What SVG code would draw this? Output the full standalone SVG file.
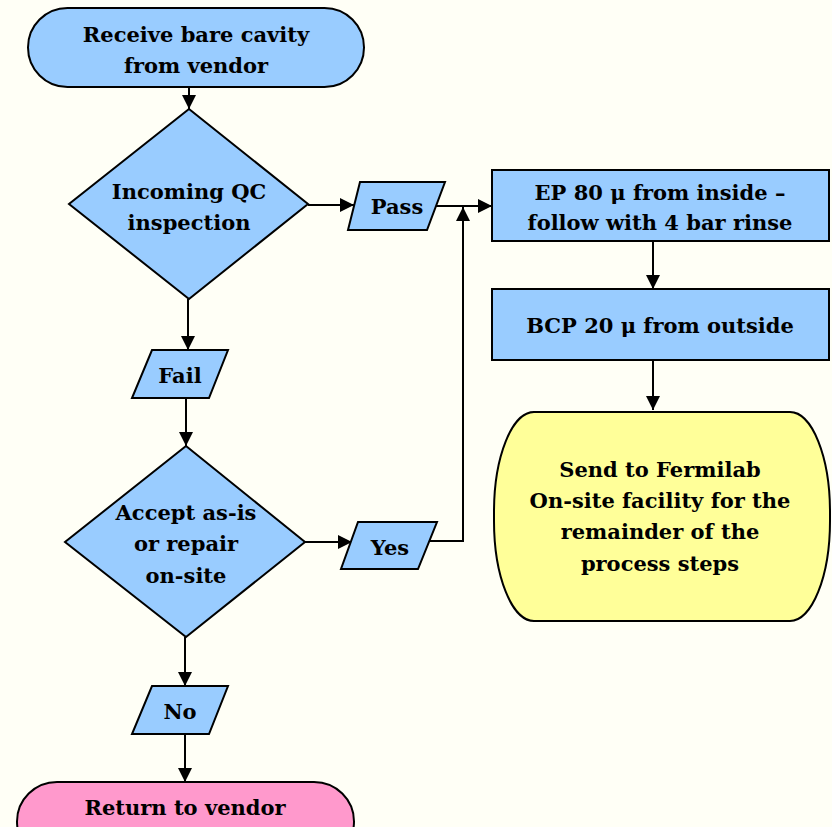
<svg xmlns="http://www.w3.org/2000/svg" width="832" height="827" viewBox="0 0 832 827">
<style>
.shape{stroke:#000;stroke-width:2}
.blue{fill:#99CCFF}
.yellow{fill:#FFFF99}
.pink{fill:#FF99CC}
.conn{fill:none;stroke:#000;stroke-width:2}
text{font-family:"DejaVu Serif","Liberation Serif",serif;font-weight:bold;font-size:21px;fill:#000;text-anchor:middle}
</style>
<defs>
<marker id="ah" markerWidth="14" markerHeight="14" refX="14" refY="7" orient="auto" markerUnits="userSpaceOnUse">
<path d="M0,0 L14,7 L0,14 z" fill="#000"/>
</marker>
</defs>
<rect width="832" height="827" fill="#FFFFF6"/>
<g id="connectors">
<line class="conn" x1="189" y1="87" x2="189" y2="109" marker-end="url(#ah)"/>
<line class="conn" x1="308" y1="205" x2="354" y2="205" marker-end="url(#ah)"/>
<line class="conn" x1="436" y1="206" x2="492" y2="206" marker-end="url(#ah)"/>
<polyline class="conn" points="429,541 463,541 463,207" marker-end="url(#ah)"/>
<line class="conn" x1="188" y1="299" x2="188" y2="350" marker-end="url(#ah)"/>
<line class="conn" x1="186" y1="398" x2="186" y2="446" marker-end="url(#ah)"/>
<line class="conn" x1="305" y1="542" x2="352" y2="542" marker-end="url(#ah)"/>
<line class="conn" x1="185" y1="637" x2="185" y2="686" marker-end="url(#ah)"/>
<line class="conn" x1="185" y1="734" x2="185" y2="782" marker-end="url(#ah)"/>
<line class="conn" x1="653" y1="241" x2="653" y2="289" marker-end="url(#ah)"/>
<line class="conn" x1="653" y1="360" x2="653" y2="410" marker-end="url(#ah)"/>
</g>
<g id="receive">
<rect class="shape blue" x="28" y="8" width="336" height="79" rx="39.5" ry="39.5"/>
<text x="196" y="42">Receive bare cavity</text>
<text x="196" y="73">from vendor</text>
</g>
<g id="qc">
<polygon class="shape blue" points="189,109 308,204 189,299 69,204"/>
<text x="189" y="199">Incoming QC</text>
<text x="189" y="230">inspection</text>
</g>
<g id="pass">
<polygon class="shape blue" points="360,182 445,182 427,230 348,230"/>
<text x="397" y="214">Pass</text>
</g>
<g id="ep">
<rect class="shape blue" x="492" y="170" width="337" height="71"/>
<text x="660" y="200">EP 80 μ from inside –</text>
<text x="660" y="230">follow with 4 bar rinse</text>
</g>
<g id="bcp">
<rect class="shape blue" x="492" y="289" width="337" height="71"/>
<text x="660" y="333">BCP 20 μ from outside</text>
</g>
<g id="fermilab">
<rect class="shape yellow" x="494" y="412" width="336" height="209" rx="40" ry="100"/>
<text x="660" y="477">Send to Fermilab</text>
<text x="660" y="508">On-site facility for the</text>
<text x="660" y="539">remainder of the</text>
<text x="660" y="571">process steps</text>
</g>
<g id="fail">
<polygon class="shape blue" points="152,350 228,350 209,398 132,398"/>
<text x="180" y="383">Fail</text>
</g>
<g id="accept">
<polygon class="shape blue" points="186,446 305,542 186,637 65,542"/>
<text x="186" y="520">Accept as-is</text>
<text x="186" y="551">or repair</text>
<text x="186" y="583">on-site</text>
</g>
<g id="yes">
<polygon class="shape blue" points="358,522 437,522 418,569 341,569"/>
<text x="390" y="555">Yes</text>
</g>
<g id="no">
<polygon class="shape blue" points="152,686 228,686 209,734 132,734"/>
<text x="180" y="719">No</text>
</g>
<g id="return">
<rect class="shape pink" x="17" y="782" width="337" height="79" rx="40" ry="39.5"/>
<text x="185" y="815">Return to vendor</text>
</g>
</svg>
